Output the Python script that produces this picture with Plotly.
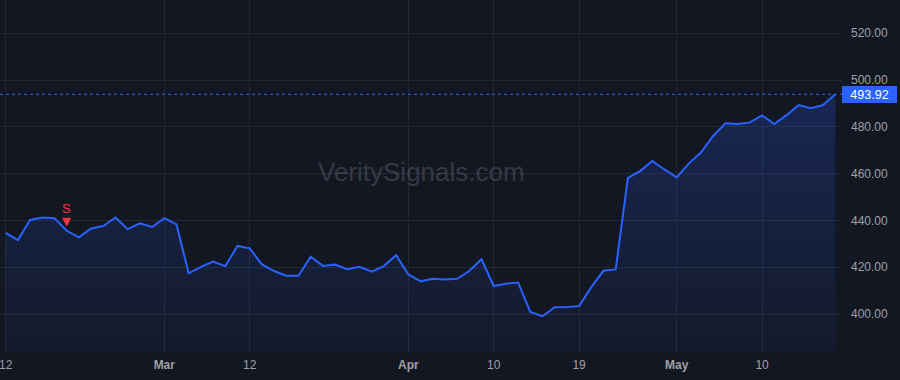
import plotly.graph_objects as go

# ---- data ----
dates = [
    "2024-02-12", "2024-02-13", "2024-02-14", "2024-02-15", "2024-02-16",
    "2024-02-20", "2024-02-21", "2024-02-22", "2024-02-23",
    "2024-02-26", "2024-02-27", "2024-02-28", "2024-02-29", "2024-03-01",
    "2024-03-04", "2024-03-05", "2024-03-06", "2024-03-07", "2024-03-08",
    "2024-03-11", "2024-03-12", "2024-03-13", "2024-03-14", "2024-03-15",
    "2024-03-18", "2024-03-19", "2024-03-20", "2024-03-21", "2024-03-22",
    "2024-03-25", "2024-03-26", "2024-03-27", "2024-03-28",
    "2024-04-01", "2024-04-02", "2024-04-03", "2024-04-04", "2024-04-05",
    "2024-04-08", "2024-04-09", "2024-04-10", "2024-04-11", "2024-04-12",
    "2024-04-15", "2024-04-16", "2024-04-17", "2024-04-18", "2024-04-19",
    "2024-04-22", "2024-04-23", "2024-04-24", "2024-04-25", "2024-04-26",
    "2024-04-29", "2024-04-30", "2024-05-01", "2024-05-02", "2024-05-03",
    "2024-05-06", "2024-05-07", "2024-05-08", "2024-05-09", "2024-05-10",
    "2024-05-13", "2024-05-14", "2024-05-15", "2024-05-16", "2024-05-17",
    "2024-05-20",
]
close = [
    434.7, 431.6, 440.2, 441.3, 441.0,
    435.6, 432.8, 436.6, 437.6,
    441.3, 436.3, 438.8, 437.2, 441.0,
    438.3, 417.4, 420.2, 422.4, 420.5,
    429.1, 428.1, 421.2, 418.4, 416.4,
    416.4, 424.5, 420.6, 421.2, 419.2,
    420.2, 418.1, 420.5, 425.2,
    417.0, 414.0, 415.1, 414.8, 415.1,
    418.4, 423.4, 412.0, 413.0, 413.5,
    400.9, 399.1, 402.9, 403.0, 403.4,
    411.5, 418.5, 419.1, 458.2, 461.1,
    465.4, 461.8, 458.4, 464.4, 469.1,
    476.2, 481.5, 481.2, 481.9, 484.9,
    481.2, 485.0, 489.3, 488.0, 489.3,
    493.92,
]
tick_dates = ["2024-02-12", "2024-03-01", "2024-03-12", "2024-04-01",
              "2024-04-10", "2024-04-19", "2024-05-01", "2024-05-10"]
tick_labels = ["12", "<b>Mar</b>", "12", "<b>Apr</b>", "10", "19",
               "<b>May</b>", "10"]
signal_dates = ["2024-02-20"]
signal_labels = ["S"]
y_ticks = [400, 420, 440, 460, 480, 500, 520]
watermark = "VeritySignals.com"

# ---- styling ----
BG = "#131722"
GRID = "#232733"
LINE = "#2962FF"
TXT = "#9da0a9"
RED = "#F23645"
FONT = "Liberation Sans, Arial, sans-serif"

idx = list(range(len(dates)))
tickvals = [dates.index(d) for d in tick_dates]
last = close[-1]

fig = go.Figure()
fig.add_trace(go.Scatter(
    x=idx, y=close, mode="lines",
    line=dict(color=LINE, width=2),
    fill="tozeroy",
    fillgradient=dict(
        type="vertical", start=383.8, stop=max(close),
        colorscale=[[0, "rgba(41,98,255,0.04)"], [1, "rgba(41,98,255,0.22)"]],
    ),
    hoverinfo="skip", showlegend=False,
))

# last price dotted line + label
fig.add_shape(type="line", xref="paper", x0=0, x1=1, yref="y", y0=last, y1=last,
              line=dict(color=LINE, width=1, dash="dot"))
fig.add_annotation(xref="paper", x=1, xanchor="left", yref="y", y=last,
                   text=f"{last:.2f}", showarrow=False,
                   font=dict(color="white", size=12.5, family=FONT),
                   bgcolor=LINE, width=51, height=13, borderpad=2, borderwidth=0)

# signals: stem + head + label
for d, lab in zip(signal_dates, signal_labels):
    i = dates.index(d)
    v = close[i]
    fig.add_annotation(x=i, y=v, text="", showarrow=True, ax=0, ay=-14,
                       arrowhead=0, arrowwidth=3, arrowcolor=RED, standoff=7)
    fig.add_annotation(x=i, y=v, text="", showarrow=True, ax=0, ay=-8,
                       arrowhead=2, arrowsize=0.6, arrowwidth=3,
                       arrowcolor=RED, standoff=4)
    fig.add_annotation(x=i, y=v, text=lab, showarrow=False, yshift=22,
                       font=dict(color=RED, size=13, family=FONT))

# watermark
fig.add_annotation(xref="paper", yref="paper", x=0.5, y=0.51, text=watermark,
                   showarrow=False,
                   font=dict(size=26, family=FONT, color="rgba(130,134,146,0.32)"))

fig.update_layout(
    width=900, height=380,
    margin=dict(l=0, r=58, t=0, b=28),
    paper_bgcolor=BG, plot_bgcolor=BG,
    font=dict(family=FONT, color=TXT, size=12),
    xaxis=dict(
        range=[-0.467, 68.55], tickvals=tickvals, ticktext=tick_labels,
        showgrid=True, gridcolor=GRID, gridwidth=1, zeroline=False,
        showline=False, ticks="", ticklabelstandoff=4,
        ticklabeloverflow="allow",
        tickfont=dict(color=TXT, size=12, family=FONT),
    ),
    yaxis=dict(
        side="right", range=[383.8, 534.2], tickvals=y_ticks, tickformat=".2f",
        showgrid=True, gridcolor=GRID, gridwidth=1, zeroline=False,
        showline=False, ticks="", ticklabelstandoff=8,
        tickfont=dict(color=TXT, size=12, family=FONT),
    ),
)

fig.write_html("out.html")
